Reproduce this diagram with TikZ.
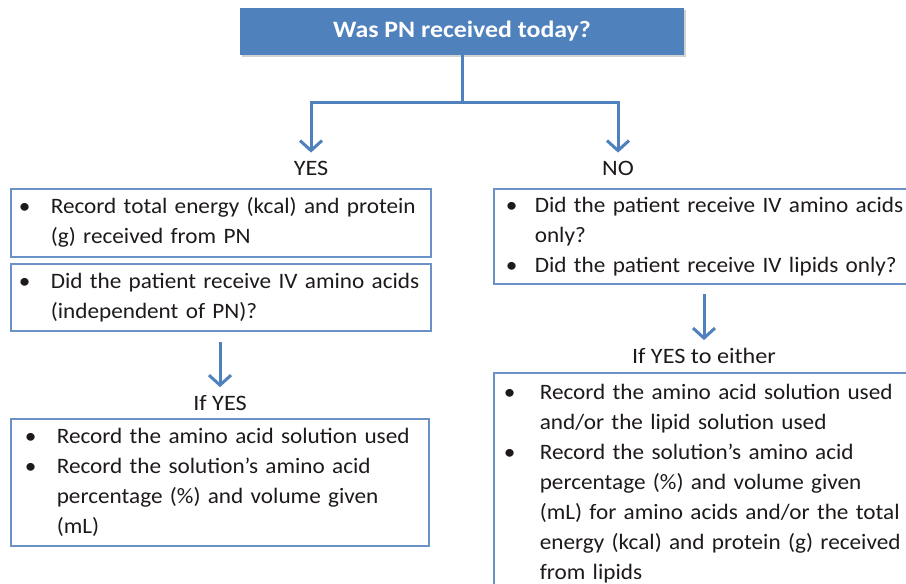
\documentclass[tikz,border=0pt]{standalone}
\usepackage{fontspec}
\setmainfont{Carlito}[FakeStretch=1.1]
\newfontfamily\boxfamily{Carlito}[FakeStretch=1.055]
\usetikzlibrary{arrows.meta,shadows}
\definecolor{pnblue}{HTML}{4F81BD}
\definecolor{edgeblue}{HTML}{6A92C6}
\definecolor{inktext}{HTML}{1E1A1A}
\newcommand{\bodyfont}{\fontsize{22}{30}\selectfont}
\newcommand{\boxfont}{\boxfamily\fontsize{22}{30}\selectfont}
\begin{document}
\begin{tikzpicture}[x=1pt,y=-1pt,
  box/.style={draw=edgeblue, line width=1.6pt, anchor=north west, inner ysep=0pt,
    font=\boxfont, text=inktext},
  conn/.style={draw=pnblue, line width=3pt},
  arr/.style={conn, -{Straight Barb[length=10pt,width=22pt]}},
  lbl/.style={font=\bodyfont, text=inktext, inner sep=0pt}]
\useasboundingbox (0,0) rectangle (906,584);
\fill[white] (0,0) rectangle (906,584);

% title
\node[fill=pnblue, minimum width=444, minimum height=47, inner sep=0pt,
  drop shadow={opacity=0.35, shadow xshift=2pt, shadow yshift=-2pt},
  text=white, font=\fontsize{23.5}{26}\selectfont\bfseries] (top) at (462,31.5) {Was PN received today?};

% labels
\node[lbl] (yes) at (311,168) {YES};
\node[lbl] (no) at (618,168) {NO};
\node[lbl] (ifyes) at (220,403) {If YES};
\node[lbl] (ifeither) at (704,356) {If YES to either};

% boxes
\node[box, minimum height=68, inner xsep=8pt, text width=404pt] (a) at (10,188) {\noindent
\begin{tabular}{@{}p{32pt}@{}l@{}}
\textbullet & Record total energy (kcal) and protein\\
 & (g) received from PN
\end{tabular}};
\node[box, minimum height=67, inner xsep=8pt, text width=404pt] (b) at (10,263) {\noindent
\begin{tabular}{@{}p{32pt}@{}l@{}}
\textbullet & Did the patient receive IV amino acids\\
 & (independent of PN)?
\end{tabular}};
\node[box, minimum height=127, inner xsep=14pt, text width=390pt] (c) at (10,418) {\noindent
\begin{tabular}{@{}p{32pt}@{}l@{}}
\textbullet & Record the amino acid solution used\\
\textbullet & Record the solution’s amino acid\\
 & percentage (\%) and volume given\\
 & (mL)
\end{tabular}};
\node[box, minimum height=95, inner xsep=12pt, text width=396pt] (d) at (493,188) {\noindent
\begin{tabular}{@{}p{29pt}@{}l@{}}
\textbullet & Did the patient receive IV amino acids\\
 & only?\\
\textbullet & Did the patient receive IV lipids only?
\end{tabular}};
\node[box, minimum height=222, inner xsep=10pt, text width=400pt] (e) at (493,372) {\noindent
\begin{tabular}{@{}p{36pt}@{}l@{}}
\textbullet & Record the amino acid solution used\\
 & and/or the lipid solution used\\
\textbullet & Record the solution’s amino acid\\
 & percentage (\%) and volume given\\
 & (mL) for amino acids and/or the total\\
 & energy (kcal) and protein (g) received\\
 & from lipids
\end{tabular}};

% connectors
\coordinate (j) at (462,102);
\draw[conn] (top.south) -- (j);
\draw[arr, shorten >=8pt] (j) -| (yes.north);
\draw[arr, shorten >=8pt] (j) -| (no.north);
\draw[arr, shorten <=10pt, shorten >=8pt] (ifyes |- b.south) -- (ifyes.north);
\draw[arr, shorten <=9pt, shorten >=8pt] (ifeither |- d.south) -- (ifeither.north);
\end{tikzpicture}
\end{document}
